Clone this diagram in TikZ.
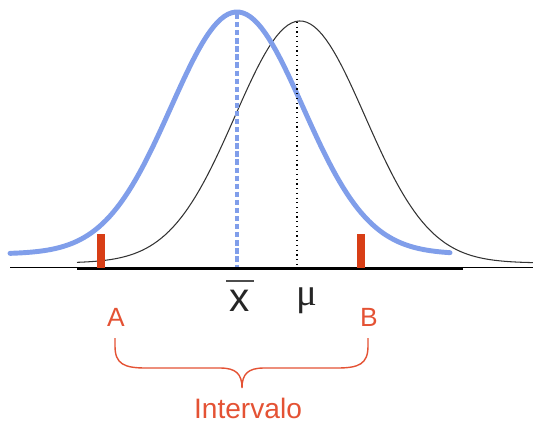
\documentclass[tikz,border=0pt]{standalone}
\usepackage{fontspec}
\setmainfont{Liberation Sans}
\newfontfamily\greekfont{Liberation Serif}
\definecolor{curveblue}{RGB}{128,158,234}
\definecolor{tickred}{RGB}{216,62,22}
\definecolor{labelred}{RGB}{228,82,52}
\begin{document}
\begin{tikzpicture}[
        x=0.02cm, y=-0.02cm,
        lbl/.style={inner sep=0pt, text=labelred, font=\fontsize{15}{17}\selectfont},
        sample/.style={curveblue, line width=2.8pt, line cap=round},
        popul/.style={black!80, line width=0.6pt},
        ticker/.style={tickred, line width=4pt}
    ]
        \useasboundingbox (0,0) rectangle (533,422);

        \draw[popul] plot[domain=77:533, samples=120] (\x, {263 - 242*exp(-0.5*((\x-300)/65)^2)});
        \draw[sample] plot[domain=10:450, samples=120] (\x, {254 - 242*exp(-0.5*((\x-237)/66)^2)});

        \coordinate (mu top) at (297,22);
        \coordinate (mu foot) at (297,268);
        \coordinate (xb top) at (237,14);
        \coordinate (xb foot) at (237,268);
        \draw[black, line width=0.7pt, dotted] (mu top) -- (mu foot);
        \draw[draw=curveblue, line width=2.2pt, dash pattern=on 3pt off 1.6pt] (xb top) -- (xb foot);

        \draw[black, line width=0.8pt] (10,267.5) -- (533,267.5);
        \draw[black, line width=1.7pt] (77,268.5) -- (463,268.5);

        \draw[ticker] (101,234) -- (101,268);
        \draw[ticker] (361,234) -- (361,268);

        \node[inner sep=0pt, anchor=north, font=\fontsize{23}{25}\selectfont, text=black!85] (xbar) at (240,290) {x};
        \draw[black!70, line width=0.9pt] ([xshift=-2pt, yshift=5pt]xbar.north west) -- ([xshift=2pt, yshift=5pt]xbar.north east);
        \node[inner sep=0pt, anchor=north, font=\greekfont\fontsize{22}{24}\selectfont, text=black!85] (mu) at (307,287) {μ};

        \node[lbl] (A) at (116,317) {A};
        \node[lbl] (B) at (369,317) {B};
        \node[lbl, font=\fontsize{16}{18}\selectfont] (interval) at (248,408) {Intervalo};

        \coordinate (brace L) at (115,338);
        \coordinate (brace R) at (368,338);
        \coordinate (brace tip) at (242,388);
        \draw[labelred, line width=0.8pt] (brace L) -- (115,346) .. controls (115,364) and (124,368) .. (146,368)
            -- (220,368) .. controls (236,368) and (242,374) .. (brace tip)
            .. controls (242,374) and (248,368) .. (264,368)
            -- (337,368) .. controls (359,368) and (368,364) .. (368,346) -- (brace R);
    \end{tikzpicture}
\end{document}
